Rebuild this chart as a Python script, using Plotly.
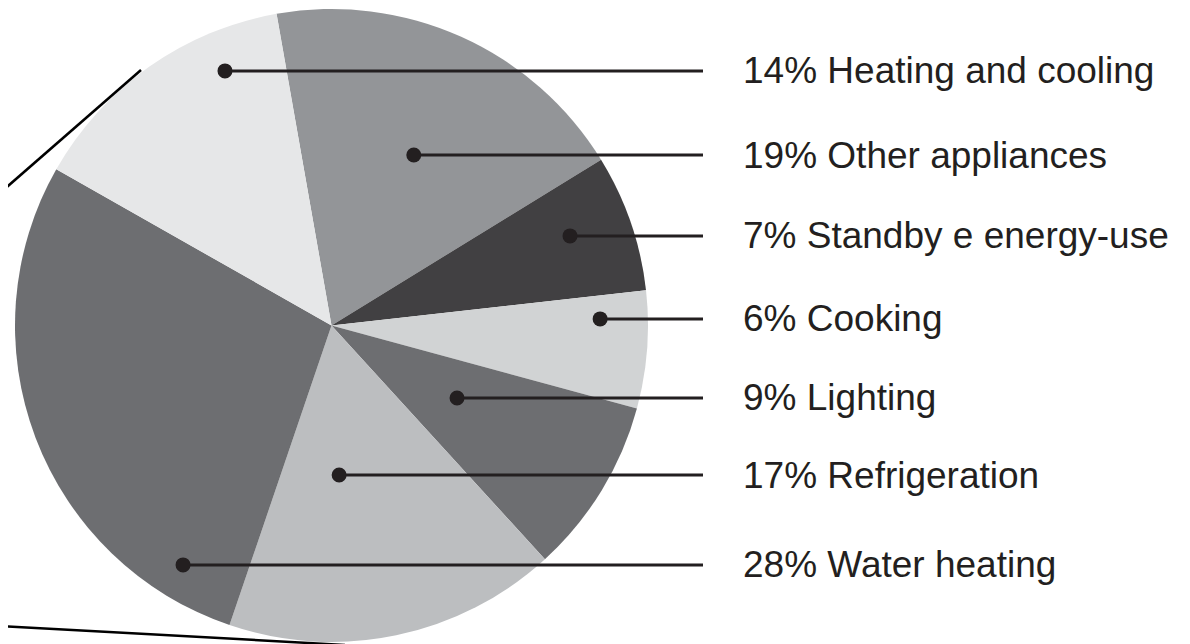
import math
import plotly.graph_objects as go

# ---- data ----
categories = ["Other appliances", "Standby e energy-use", "Cooking", "Lighting",
              "Refrigeration", "Water heating", "Heating and cooling"]
shares = [19, 7, 6, 9, 17, 28, 14]
colors = ["#939598", "#414042", "#d1d3d4", "#6d6e71", "#bcbec0", "#6d6e71", "#e6e7e8"]

# ---- layout / style ----
W, H = 1190, 644          # browser window
OFF = 8                   # default page body margin
FW, FH = W - OFF, H - OFF # figure size so it fits in the window
CX, CY, R = 331.5, 325.5, 316.5      # pie centre and radius in page pixels
ROTATION = -10                       # first slice starts 10 deg left of 12 o'clock
# position of each label dot inside its slice: (fraction of slice angle, fraction of radius)
dot_place = [(0.523, 0.598), (0.437, 0.805), (0.231, 0.849), (0.457, 0.458),
             (0.645, 0.473), (0.129, 0.890), (0.748, 0.872)]
LINE_END_X = 703
TEXT_X = 741
INK = "#231f20"
FONT = "Liberation Sans, Arial, Helvetica, sans-serif"

fig = go.Figure()

fig.add_trace(go.Pie(
    labels=categories, values=shares, sort=False, direction="clockwise",
    rotation=ROTATION, marker=dict(colors=colors, line=dict(width=0)),
    textinfo="none", hoverinfo="label+percent", showlegend=False,
    domain=dict(x=[(CX - OFF - R) / FW, (CX - OFF + R) / FW],
                y=[(H - CY - R) / FH, (H - CY + R) / FH]),
))

# invisible trace to create a page-pixel coordinate system for annotations
fig.add_trace(go.Scatter(x=[], y=[], showlegend=False, hoverinfo="skip"))

total = sum(shares)
start = ROTATION
shapes = []
annotations = []
for cat, v, (af, rf) in zip(categories, shares, dot_place):
    span = 360.0 * v / total
    a = math.radians(start + af * span)
    r = rf * R
    dx = CX + r * math.sin(a)
    dy = CY - r * math.cos(a)
    start += span
    shapes.append(dict(type="line", xref="x", yref="y", x0=dx, y0=dy, x1=LINE_END_X, y1=dy,
                       line=dict(color=INK, width=3), layer="above"))
    shapes.append(dict(type="circle", xref="x", yref="y", x0=dx - 7.5, x1=dx + 7.5,
                       y0=dy - 7.5, y1=dy + 7.5, fillcolor=INK, line=dict(width=0),
                       layer="above"))
    annotations.append(dict(x=TEXT_X, y=dy, xref="x", yref="y", xanchor="left",
                            yanchor="middle", showarrow=False,
                            text=f"{v}% {cat}",
                            font=dict(family=FONT, size=37, color=INK)))

# decorative callout lines on the left
shapes.append(dict(type="line", xref="x", yref="y", x0=141, y0=70, x1=0, y1=193,
                   line=dict(color="#000000", width=2.5), layer="above"))
shapes.append(dict(type="line", xref="x", yref="y", x0=0, y0=626, x1=345, y1=645,
                   line=dict(color="#000000", width=2.5), layer="above"))

fig.update_layout(
    width=FW, height=FH,
    margin=dict(l=0, r=0, t=0, b=0),
    paper_bgcolor="white", plot_bgcolor="rgba(0,0,0,0)",
    xaxis=dict(range=[OFF, W], visible=False, fixedrange=True),
    yaxis=dict(range=[H, OFF], visible=False, fixedrange=True),
    shapes=shapes, annotations=annotations,
    showlegend=False,
)

fig.write_html("out.html")
